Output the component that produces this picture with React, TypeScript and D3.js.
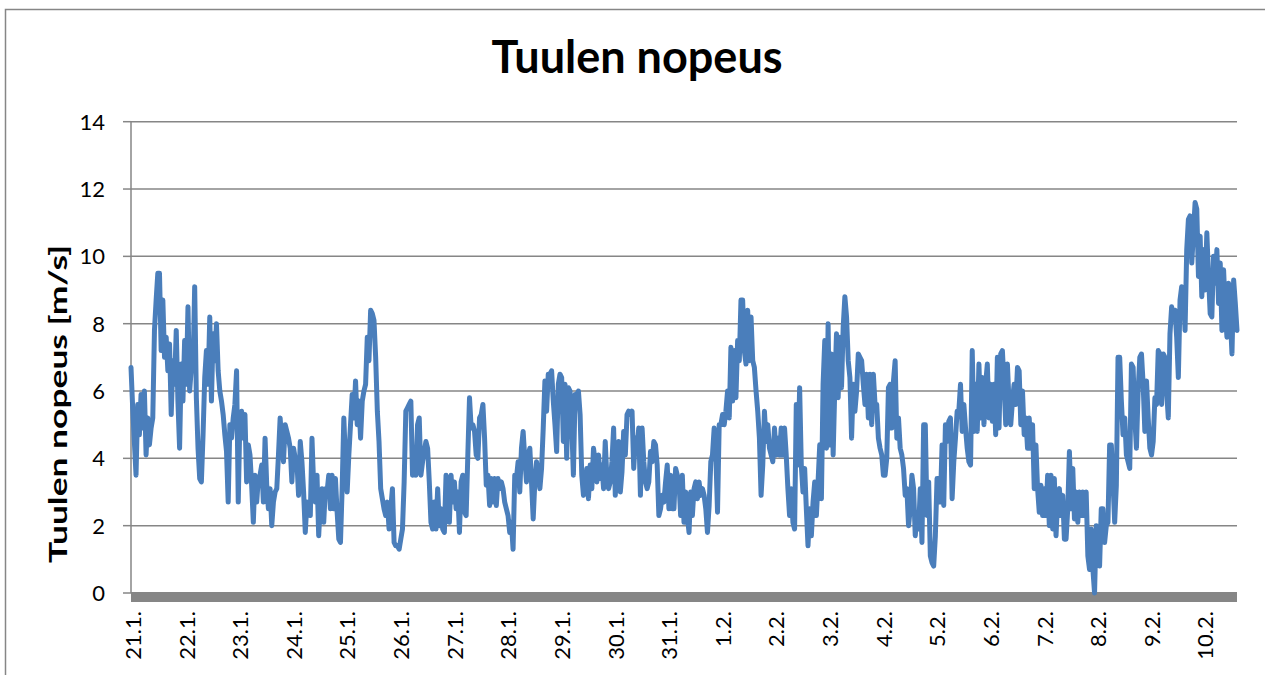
import React from 'react';
import * as d3 from 'd3';

// Category labels (one per day, at midnight)
const dayLabels = [
  '21.1.', '22.1.', '23.1.', '24.1.', '25.1.', '26.1.', '27.1.', '28.1.', '29.1.', '30.1.', '31.1.',
  '1.2.', '2.2.', '3.2.', '4.2.', '5.2.', '6.2.', '7.2.', '8.2.', '9.2.', '10.2.',
];
const yTicks = [0, 2, 4, 6, 8, 10, 12, 14];
const readingsPerDay = 32; // one reading every 45 minutes

// Wind speed [m/s], 21.1. 00:00 -> 26.1. 00:00
const speedsPart1 = [
  6.7, 5.5, 4.5, 3.5, 5.6, 4.7, 5.9, 4.9, 6.0, 4.1,
  5.2, 4.4, 4.9, 5.2, 7.8, 8.7, 9.5, 9.5, 7.2, 8.7,
  7.0, 7.6, 6.6, 7.4, 5.3, 6.9, 6.2, 7.8, 5.7, 4.3,
  6.8, 5.7, 7.5, 6.2, 8.5, 6.0, 6.7, 6.6, 9.1, 5.8,
  4.3, 3.4, 3.3, 4.7, 6.4, 7.2, 6.2, 8.2, 5.7, 7.7,
  6.9, 8.0, 6.6, 6.0, 5.7, 5.3, 4.7, 4.2, 2.7, 5.0,
  4.6, 5.2, 5.6, 6.6, 2.7, 5.2, 5.4, 4.6, 5.3, 3.3,
  4.4, 4.1, 3.2, 2.1, 3.5, 2.7, 3.4, 3.5, 3.8, 2.7,
  4.6, 3.2, 2.5, 3.1, 2.0, 2.7, 3.0, 3.1, 4.1, 5.2,
  4.4, 3.9, 5.0, 4.8, 4.6, 4.3, 3.3, 4.3, 4.0, 3.9,
  2.9, 4.5, 3.9, 3.0, 1.8, 2.7, 2.5, 2.3, 4.6, 3.2,
  2.7, 3.5, 1.7, 2.7, 3.1, 2.1, 3.1, 3.0, 3.5, 2.5,
  3.5, 2.5, 3.4, 2.4, 1.6, 1.5, 3.1, 5.2, 3.9, 3.0,
  4.1, 5.0, 5.9, 5.2, 6.3, 5.0, 5.7, 4.6, 5.7, 6.0,
  6.2, 7.6, 6.9, 8.4, 8.3, 8.1, 7.0, 5.4, 4.5, 3.1,
  2.8, 2.5, 2.3, 2.7, 1.9, 2.5, 3.1, 1.5, 1.4, 1.4,
];

// 26.1. 00:00 -> 31.1. 00:00
const speedsPart2 = [
  1.3, 1.6, 1.9, 3.3, 5.4, 5.5, 5.6, 5.7, 3.5, 4.3,
  3.5, 5.0, 5.2, 3.5, 3.9, 4.2, 4.5, 4.3, 3.3, 2.1,
  1.9, 2.7, 1.9, 3.1, 2.0, 2.5, 1.9, 1.8, 3.5, 2.6,
  2.1, 3.5, 2.7, 3.3, 2.5, 3.0, 1.8, 3.3, 3.5, 2.4,
  2.3, 4.1, 5.8, 4.9, 5.0, 4.8, 4.1, 4.0, 5.2, 5.3,
  5.6, 4.6, 3.2, 3.5, 2.6, 3.4, 2.7, 3.4, 2.6, 3.4,
  3.1, 3.3, 3.1, 2.7, 2.5, 2.3, 1.8, 2.1, 1.3, 3.5,
  3.4, 3.9, 3.0, 4.3, 4.8, 4.0, 3.3, 4.1, 4.3, 3.3,
  2.2, 3.3, 3.9, 3.5, 3.1, 3.7, 4.9, 6.3, 5.4, 6.5,
  6.5, 6.6, 5.7, 5.0, 4.2, 6.2, 6.5, 6.4, 4.5, 6.2,
  4.0, 6.1, 6.0, 5.0, 3.5, 5.9, 5.9, 6.0, 5.3, 3.5,
  2.9, 3.1, 3.7, 2.8, 3.8, 3.1, 4.3, 3.9, 3.3, 4.1,
  3.4, 3.8, 3.1, 4.5, 3.4, 3.1, 3.3, 3.9, 4.9, 2.9,
  4.1, 4.5, 3.0, 3.6, 4.8, 4.1, 5.3, 5.4, 5.3, 5.4,
  3.7, 4.6, 4.3, 4.9, 2.9, 4.9, 3.9, 3.3, 3.1, 3.3,
  4.2, 3.9, 4.5, 4.4, 3.8, 2.3, 2.5, 2.9, 2.7, 3.3,
];

// 31.1. 00:00 -> 5.2. 00:00
const speedsPart3 = [
  3.8, 2.5, 3.5, 2.5, 2.5, 3.7, 3.5,
  3.3, 2.3, 3.5, 2.1, 3.0, 2.3, 1.8, 3.0, 2.3, 3.1,
  3.3, 2.8, 3.3, 2.9, 3.1, 2.9, 2.5, 1.8, 2.6, 3.9,
  4.1, 4.9, 4.1, 2.4, 5.0, 5.0, 5.3, 5.0, 5.4, 6.0,
  5.2, 7.3, 5.7, 7.2, 5.8, 7.5, 6.9, 8.7, 8.7, 7.2,
  6.8, 8.4, 6.9, 8.2, 6.9, 6.7, 6.0, 5.4, 4.6, 2.9,
  3.8, 5.4, 4.5, 5.0, 4.3, 4.1, 3.9, 4.9, 4.1, 4.6,
  4.1, 4.9, 4.1, 4.9, 4.1, 3.1, 2.3, 3.1, 2.1, 1.9,
  5.6, 3.8, 6.1, 3.8, 3.0, 3.7, 2.5, 1.4, 2.5, 1.7,
  2.7, 3.3, 2.3, 3.3, 4.4, 2.8, 6.2, 7.5, 4.3, 8.0,
  4.4, 7.1, 4.1, 6.1, 7.7, 5.8, 7.6, 6.1, 7.9, 8.8,
  8.2, 6.9, 6.4, 4.6, 6.2, 5.4, 6.0, 7.1, 7.0, 6.9,
  6.2, 5.6, 6.5, 5.2, 6.5, 5.0, 6.5, 5.6, 5.6, 4.6,
  4.3, 4.1, 3.5, 3.5, 4.0, 6.1, 6.2, 4.9, 6.3, 6.9,
  4.6, 5.2, 4.3, 4.1, 3.7, 2.9, 3.1, 2.0, 2.5, 3.5,
  3.1, 1.7, 2.3, 1.9, 3.1, 1.5, 5.0, 5.0, 2.3, 3.3,
  1.1, 0.9, 0.8,
];

// 5.2. 00:00 -> 10.2. afternoon
const speedsPart4 = [
  1.7, 3.4, 3.4, 2.7, 4.4, 2.6, 5.0, 4.5, 5.1, 5.2, 2.8, 3.9, 4.6, 5.4,
  5.4, 6.2, 4.8, 5.6, 4.9, 4.3, 3.9, 3.8, 7.2, 4.8,
  6.2, 4.8, 6.8, 5.2, 6.4, 5.0, 6.2, 6.8, 5.2, 6.2,
  5.1, 6.2, 4.7, 7.0, 4.9, 7.1, 7.2, 6.2, 5.0, 6.8,
  5.6, 5.0, 5.7, 6.2, 5.6, 6.7, 6.6, 5.0, 6.0, 4.7,
  5.2, 4.3, 5.2, 4.3, 5.0, 3.1, 4.4, 3.1, 2.4, 3.2,
  2.3, 3.1, 2.3, 3.5, 2.0, 3.5, 1.9, 3.4, 1.7, 2.8,
  3.1, 2.3, 2.9, 1.6, 1.6, 2.5, 4.2, 2.5, 3.7, 2.2,
  3.0, 2.1, 3.0, 2.3, 3.0, 2.3, 3.0, 1.1, 0.7, 1.9,
  0.7, 0.0, 2.0, 1.4, 0.8, 2.5, 2.5, 1.5, 2.0, 2.1,
  4.4, 4.4, 3.3, 2.1, 3.2, 7.0, 7.0, 5.7, 4.7, 5.2,
  4.1, 3.9, 3.7, 6.8, 6.7, 5.2, 4.3, 6.0, 7.0, 7.1,
  6.2, 4.8, 6.3, 5.2, 4.3, 4.1, 4.5, 5.8, 5.6, 7.2,
  7.1, 5.6, 7.1, 7.0, 6.0, 5.2, 7.7, 8.5, 8.2, 8.4,
  7.6, 6.4, 8.7, 9.1, 9.0, 7.8, 10.2, 11.1, 11.2, 9.8,
  10.7, 11.6, 11.4, 9.4, 10.6, 8.8, 10.2, 9.0, 10.7, 9.4,
  8.3, 8.2, 10.0, 9.2, 10.2, 8.6, 9.8, 7.8, 9.6, 8.4,
  7.6, 9.2, 8.2, 7.1, 9.3, 8.6, 7.8,
];

const speeds = [...speedsPart1, ...speedsPart2, ...speedsPart3, ...speedsPart4];

const TITLE = 'Tuulen nopeus';
const Y_TITLE = 'Tuulen nopeus [m/s]';

export default function App() {
  const W = 1265;
  const H = 675;
  const plotLeft = 131;
  const plotRight = 1237;
  const plotTop = 121.7;
  const plotBottom = 593;
  const grey = '#868686';
  const font = 'Lato, "Open Sans", sans-serif';

  const x = d3
    .scaleLinear()
    .domain([0, (speeds.length - 1) / readingsPerDay])
    .range([plotLeft, plotRight]);
  const y = d3.scaleLinear().domain([0, 14]).range([plotBottom, plotTop]);

  const linePath =
    d3
      .line<number>()
      .x((_, i) => x(i / readingsPerDay))
      .y((d) => y(d))(speeds) || '';

  return (
    <svg
      width={W}
      height={H}
      style={{ position: 'absolute', left: 0, top: 0, background: '#fff' }}
    >
      <rect x={0} y={0} width={W} height={H} fill="#fff" />
      {/* chart border */}
      <rect x={5.5} y={9.5} width={W + 20} height={H + 20} fill="none" stroke={grey} strokeWidth={1.5} />

      {/* title */}
      <text
        x={637}
        y={73}
        textAnchor="middle"
        fontFamily={font}
        fontWeight="bold"
        fontSize={45}
        fill="#000"
      >
        {TITLE}
      </text>

      {/* gridlines */}
      {yTicks.map((t) => (
        <g key={t}>
          {t > 0 && (
            <line x1={plotLeft} x2={plotRight} y1={y(t)} y2={y(t)} stroke={grey} strokeWidth={1.5} />
          )}
          <line x1={plotLeft - 8} x2={plotLeft} y1={y(t)} y2={y(t)} stroke={grey} strokeWidth={1.5} />
          <text
            x={105}
            y={y(t)}
            dy="0.36em"
            textAnchor="end"
            fontFamily={font}
            fontSize={22}
            fill="#000"
          >
            {t}
          </text>
        </g>
      ))}

      {/* y axis line */}
      <line x1={plotLeft} x2={plotLeft} y1={plotTop} y2={plotBottom} stroke={grey} strokeWidth={1.5} />

      {/* x axis (thick) */}
      <rect x={plotLeft} y={plotBottom - 1} width={plotRight - plotLeft} height={10} fill={grey} />

      {/* x labels */}
      {dayLabels.map((lab, i) => (
        <text
          key={lab}
          transform={`translate(${x(i) + 2},611) rotate(-90)`}
          dy="0.36em"
          textAnchor="end"
          fontFamily={font}
          fontSize={22}
          fill="#000"
        >
          {lab}
        </text>
      ))}

      {/* y title */}
      <text
        transform={`translate(67,404) rotate(-90)`}
        textAnchor="middle"
        fontFamily={font}
        fontWeight="bold"
        fontSize={25}
        textLength={318}
        lengthAdjust="spacingAndGlyphs"
        fill="#000"
      >
        {Y_TITLE}
      </text>

      {/* series */}
      <path
        d={linePath}
        fill="none"
        stroke="#4a7ebb"
        strokeWidth={5}
        strokeLinejoin="round"
        strokeLinecap="round"
      />
    </svg>
  );
}
